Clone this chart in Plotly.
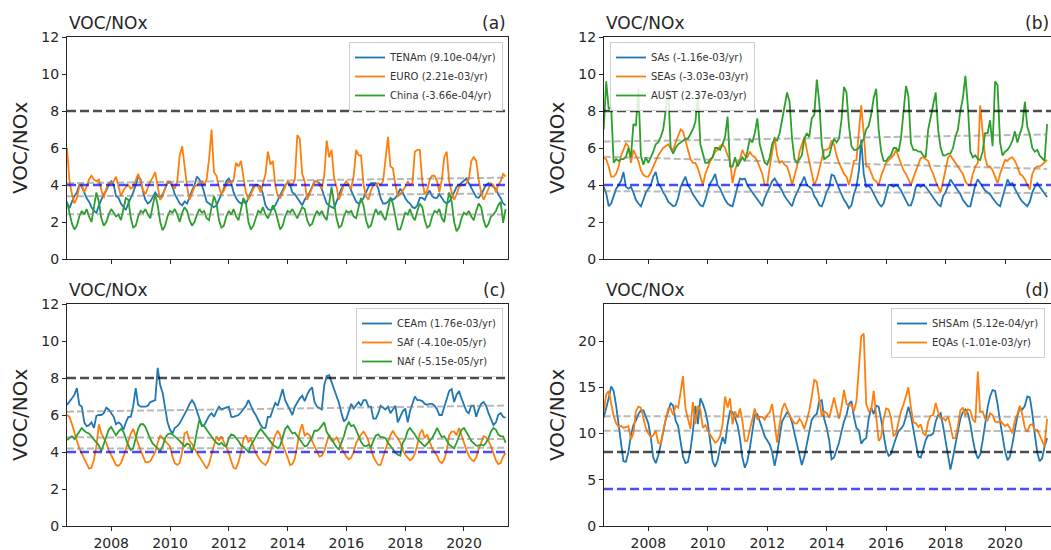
import numpy as np
import pandas as pd
import plotly.graph_objects as go

W, H = 1051, 550
FONT = "DejaVu Sans"
INK = "#262626"
C_BLUE, C_ORANGE, C_GREEN = "#1f77b4", "#ff7f0e", "#2ca02c"

# monthly time axis: Jul 2006 .. Jun 2021
dates = pd.date_range("2006-07-01", periods=180, freq="MS")
tnum = dates.year + (dates.month - 1) / 12.0

# ---------------- panel (a) ----------------
TENAm = [3.0, 2.75, 3.1, 3.4, 3.6, 4.0,
         3.9, 3.55, 3.3, 3.1, 2.8, 2.6, 2.5, 2.9, 3.2, 3.5, 3.7, 4.0,
         4.2, 4.0, 3.4, 3.3, 3.0, 2.8, 2.65, 3.0, 3.3, 3.6, 4.0, 4.45,
         4.3, 3.6, 3.2, 3.0, 3.1, 3.4, 3.6, 3.4, 3.3, 3.5, 3.8, 4.1,
         4.15, 3.9, 3.5, 3.2, 3.0, 2.9, 3.1, 3.0, 3.4, 3.7, 4.0, 4.45,
         4.3, 4.0, 3.6, 3.1, 3.0, 2.9, 2.8, 2.9, 3.2, 3.5, 3.8, 4.2,
         4.35, 4.1, 3.6, 3.3, 3.1, 3.0, 3.1, 3.0, 3.3, 3.6, 3.9, 4.0,
         4.0, 3.9, 3.5, 2.9, 2.7, 2.65, 2.7, 2.9, 3.2, 3.5, 3.8, 4.0,
         4.1, 4.0, 3.6, 3.5, 3.3, 3.1, 2.9, 3.2, 3.4, 3.6, 3.9, 4.2,
         4.2, 4.1, 3.8, 3.4, 3.0, 2.9, 2.8, 2.75, 3.1, 3.5, 3.8, 4.0,
         4.0, 4.0, 3.7, 3.4, 3.1, 3.0, 3.1, 3.3, 3.6, 3.9, 4.1, 4.1,
         4.1, 3.8, 3.3, 3.0, 3.0, 3.1, 3.3, 3.2, 3.3, 3.5, 3.8, 3.6,
         3.3, 3.1, 3.0, 2.8, 2.75, 2.9, 3.3, 3.3, 3.2, 3.5, 3.7, 3.4,
         3.3, 3.3, 3.5, 3.3, 3.1, 3.0, 3.1, 3.3, 3.6, 3.9, 4.0, 4.1,
         4.2, 4.35, 4.1, 3.8, 3.6, 3.35, 3.3, 3.5, 3.8, 4.0, 4.1, 4.0,
         3.9, 3.8, 3.5, 3.3, 3.0, 2.9]
EURO = [6.0, 4.2, 3.5, 3.0, 3.3, 3.9,
        4.0, 3.6, 3.9, 4.3, 4.5, 4.3, 4.2, 4.3, 3.7, 3.3, 3.8, 4.1,
        4.1, 4.2, 4.45, 3.9, 3.4, 3.7, 3.9, 4.0, 3.8, 3.9, 4.3, 4.6,
        4.2, 3.7, 3.5, 3.9, 4.2, 4.4, 4.7, 3.9, 3.2, 3.4, 3.8, 4.2,
        4.2, 4.0, 3.8, 4.2, 5.6, 6.1, 5.0, 3.9, 3.2, 3.5, 3.9, 4.0,
        4.1, 4.2, 4.0, 4.3, 5.4, 7.0, 4.7, 4.5, 3.9, 3.5, 3.7, 4.0,
        4.2, 4.1, 4.3, 5.2, 5.0, 5.3, 4.4, 3.6, 3.2, 3.5, 3.8, 4.0,
        3.9, 3.6, 4.1, 4.6, 5.8, 5.1, 5.3, 4.0, 3.4, 3.3, 3.6, 3.9,
        4.2, 4.1, 4.0, 4.3, 6.7, 6.5, 4.6, 4.2, 3.2, 3.5, 3.9, 4.2,
        4.2, 4.0, 3.8, 4.5, 6.4, 5.5, 5.9, 4.4, 3.9, 3.2, 3.6, 4.0,
        4.2, 4.0, 3.8, 4.5, 5.9, 5.6, 5.6, 4.0, 3.4, 3.2, 3.7, 4.0,
        4.0, 4.1, 4.0, 4.2, 5.3, 6.6, 5.0, 4.9, 4.0, 3.4, 3.5, 3.7,
        3.9, 4.2, 4.0, 4.1, 5.8, 5.9, 5.9, 4.2, 3.5, 3.7, 4.3, 4.5,
        4.5, 4.2, 3.6, 4.3, 5.5, 5.8, 4.2, 3.6, 3.2, 3.5, 3.9, 4.0,
        4.0, 4.1, 4.3, 5.3, 5.5, 5.3, 4.3, 3.6, 3.2, 3.5, 3.8, 4.1,
        4.0, 3.6, 4.0, 4.2, 4.6, 4.45]
China = [3.1, 2.4, 1.9, 1.6, 1.8, 2.3,
         2.6, 2.4, 2.7, 2.3, 2.0, 2.8, 3.6, 3.1, 2.2, 1.8, 2.0, 2.4,
         2.7, 2.5, 2.3, 2.4, 2.1, 2.7, 3.3, 3.2, 2.2, 1.7, 1.8, 2.3,
         2.6, 2.5, 2.7, 2.4, 2.2, 2.9, 3.5, 2.9, 2.0, 1.55, 1.8, 2.3,
         2.6, 2.5, 2.7, 2.4, 2.0, 2.5, 2.8, 2.6, 2.1, 1.8, 2.0, 2.4,
         2.7, 2.5, 2.6, 2.2, 2.1, 2.8, 3.4, 3.0, 2.1, 1.7, 1.8, 2.3,
         2.6, 2.4, 2.7, 2.3, 2.1, 2.7, 3.3, 3.0, 2.0, 1.6, 1.8, 2.2,
         2.6, 2.5, 2.8, 2.4, 2.2, 2.5, 2.9, 2.6, 2.0, 1.6, 1.8, 2.3,
         2.6, 2.5, 2.7, 2.4, 2.2, 2.5, 2.8, 2.7, 2.1, 1.8, 1.9, 2.3,
         2.6, 2.4, 2.6, 2.3, 2.1, 3.0, 3.9, 3.0, 2.2, 1.7, 1.8, 2.3,
         2.6, 2.5, 2.6, 2.3, 2.2, 2.8, 3.3, 2.9, 2.1, 1.7, 1.8, 2.3,
         2.7, 2.4, 2.6, 2.3, 2.1, 2.7, 3.3, 3.0, 2.2, 1.6, 1.6, 2.1,
         2.5, 2.4, 2.7, 2.3, 2.1, 2.6, 3.0, 2.8, 2.1, 1.7, 1.8, 2.3,
         2.6, 2.5, 2.7, 2.2, 2.0, 2.9, 3.6, 3.1, 2.0, 1.5, 1.7, 2.2,
         2.5, 2.4, 2.6, 2.3, 2.1, 2.6, 3.0, 2.8, 2.1, 1.7, 1.9, 2.3,
         2.4, 2.6, 2.9, 3.1, 1.95, 2.7]

# ---------------- panel (b) ----------------
SAs = [3.9, 3.55, 2.85, 3.0, 3.4, 3.8,
       4.0, 4.25, 4.7, 3.9, 3.8, 3.9, 3.6, 3.2, 3.0, 2.85, 3.2, 3.6,
       3.8, 4.0, 4.45, 4.7, 4.1, 3.9, 3.6, 3.4, 3.1, 3.0, 2.85, 2.9,
       3.3, 3.9, 4.2, 4.45, 4.0, 3.8, 3.5, 3.3, 3.1, 2.9, 2.85, 3.2,
       3.7, 4.1, 4.3, 4.6, 4.0, 3.8, 3.5, 3.2, 3.0, 2.9, 2.85, 3.4,
       3.9, 4.35, 4.3, 4.35, 4.0, 3.8, 3.6, 3.4, 3.2, 3.0, 2.85, 3.3,
       3.6, 3.9, 4.2, 4.35, 4.1, 3.9, 3.7, 3.4, 3.2, 3.0, 2.85, 3.3,
       3.6, 3.9, 4.2, 4.45, 4.0, 3.9, 3.8, 3.4, 3.2, 2.9, 2.85, 3.2,
       3.65, 3.9, 4.55, 4.5, 4.1, 3.8, 3.5, 3.2, 3.0, 2.75, 2.9, 3.5,
       3.9, 4.8, 6.45, 4.6, 3.9, 3.95, 3.8, 3.5, 3.2, 3.0, 2.85, 3.0,
       3.5, 4.0, 4.0, 3.9, 4.0, 3.9, 3.7, 3.4, 3.1, 2.9, 2.9, 3.3,
       3.9, 4.0, 3.9, 4.0, 3.9, 3.7, 3.5, 3.3, 3.1, 2.95, 2.85, 3.4,
       3.6, 4.0, 4.3, 4.1, 3.9, 3.7, 3.5, 3.2, 3.0, 2.85, 2.85, 3.4,
       4.0, 4.3, 4.1, 3.9, 3.7, 3.6, 3.5, 3.3, 3.1, 2.95, 2.85, 3.3,
       3.9, 4.3, 4.05, 4.1, 3.8, 3.5, 3.3, 3.1, 2.95, 2.85, 3.1, 3.6,
       3.9, 4.1, 3.9, 3.7, 3.5, 3.35]
SEAs = [5.45, 5.4, 5.0, 4.45, 4.45, 4.6,
        5.0, 5.6, 5.9, 6.25, 6.1, 5.2, 5.9, 5.6, 5.3, 4.8, 4.55, 4.45,
        4.45, 4.7, 5.0, 5.3, 5.6, 5.8, 6.0, 6.1, 6.2, 6.0, 5.9, 6.3,
        6.7, 7.0, 6.9, 6.4, 5.8, 5.4, 5.2, 5.2, 4.9, 4.5, 4.0, 4.6,
        5.0, 5.3, 5.5, 5.8, 5.9, 6.1, 6.2, 6.0, 5.6, 5.3, 4.1, 4.8,
        5.2, 5.4, 5.9, 5.6, 5.5, 5.8, 5.6, 5.5, 5.3, 5.0, 4.6, 4.0,
        4.0, 5.0, 5.8, 6.6, 5.6, 5.2, 5.3, 5.1, 5.0, 4.6, 4.0, 4.5,
        5.0, 5.8, 6.25, 6.6, 5.9, 5.2, 4.5, 4.0, 4.3, 4.9, 5.4, 5.9,
        5.9, 6.0, 6.4, 6.2, 5.6, 5.2, 4.9, 4.6, 4.45, 4.0, 4.6, 5.3,
        5.35, 6.7, 8.3, 6.8, 5.0, 5.0, 4.6, 4.3, 4.2, 4.0, 4.5, 4.8,
        5.2, 5.35, 5.5, 5.6, 5.9, 5.5, 5.2, 4.8, 4.6, 4.3, 4.0, 4.4,
        4.8, 5.2, 5.45, 5.5, 5.4, 5.3, 4.9, 4.6, 4.2, 3.9, 3.6, 4.2,
        4.8, 5.5, 5.6, 5.4, 5.2, 5.0, 4.8, 4.6, 4.2, 4.0, 4.0, 4.6,
        5.0, 5.2, 8.3, 7.0, 5.5, 5.0, 5.0, 4.8, 4.45, 4.1, 4.6, 5.0,
        5.35, 5.3, 5.45, 5.5, 5.3, 5.0, 4.6, 4.5, 4.3, 4.0, 3.75, 4.6,
        4.9, 5.0, 5.0, 5.1, 5.2, 5.35]
AUST = [7.0, 9.6, 8.1, 8.2, 5.2, 5.4,
        5.3, 5.4, 5.4, 5.5, 6.0, 5.5, 7.3, 7.2, 9.2, 5.6, 5.1, 5.5,
        5.2, 5.5, 5.8, 6.2, 6.3, 6.6, 7.0, 8.0, 9.2, 6.0, 5.7, 6.0,
        6.2, 6.3, 6.4, 6.5, 6.5, 6.8, 7.0, 7.4, 8.9, 6.2, 5.6, 5.2,
        5.2, 5.4, 5.5, 6.0, 6.0, 5.9, 6.2, 6.6, 7.7, 5.0, 5.0, 5.5,
        5.0, 5.3, 5.5, 5.3, 5.8, 6.5, 6.3, 6.8, 7.6, 6.2, 5.6, 5.2,
        5.1, 5.5, 6.2, 6.5, 6.4, 6.8, 7.5, 8.2, 9.0, 8.5, 6.5, 5.4,
        5.2, 5.4, 5.6, 6.5, 6.8, 6.6, 7.6, 7.8, 9.7, 8.5, 6.2, 5.4,
        5.5, 5.6, 6.1, 6.5, 6.3, 6.5, 7.5, 9.3, 9.0, 7.2, 6.1, 5.9,
        5.9, 6.0, 6.25, 6.5, 7.0, 7.2, 7.8, 8.7, 9.2, 7.0, 5.8, 5.3,
        5.3, 5.5, 5.6, 6.0, 6.0, 5.8, 6.5, 7.8, 9.35, 8.8, 6.25, 5.9,
        5.9, 5.8, 5.8, 5.6, 5.5, 7.0, 7.6, 8.2, 9.0, 7.0, 6.0, 5.6,
        5.6, 5.7, 5.7, 6.0, 6.6, 7.0, 8.0, 8.7, 9.9, 8.3, 5.8, 5.5,
        5.6, 5.4, 5.35, 5.8, 6.8, 6.8, 7.5, 6.1, 9.6, 9.4, 6.3, 5.6,
        5.8, 5.9, 6.1, 6.4, 6.9, 6.3, 6.7, 7.2, 8.5, 7.15, 6.7, 6.0,
        5.8, 5.9, 5.6, 5.45, 5.3, 7.3]

# ---------------- panel (c) ----------------
CEAm = [6.55, 6.7, 6.9, 7.1, 7.45, 6.55,
        6.45, 5.6, 5.4, 5.45, 5.6, 5.3, 5.95, 6.0, 6.0, 6.1, 6.4, 6.3,
        6.1, 5.9, 5.5, 5.6, 5.5, 5.2, 5.6, 5.9, 5.9, 6.5, 7.45, 6.55,
        6.45, 6.45, 6.45, 6.5, 6.7, 6.75, 6.8, 8.55, 7.6, 7.2, 6.45, 5.6,
        5.2, 5.0, 5.3, 5.4, 5.55, 5.8, 6.0, 6.3, 6.6, 6.8, 6.6, 6.2,
        5.8, 5.4, 5.45, 5.7, 5.95, 6.1, 5.9, 6.2, 6.45, 6.3, 6.35, 6.4,
        6.45, 5.9, 5.9, 5.95, 6.0, 6.15, 6.3, 6.5, 6.8, 6.5, 6.2, 6.0,
        5.7, 5.45, 5.3, 5.3, 5.9, 5.9, 6.3, 6.65, 6.5, 7.0, 7.4, 6.8,
        6.5, 6.2, 6.0, 6.45, 6.7, 6.9, 7.05, 6.75, 7.1, 7.35, 7.5, 6.7,
        6.45, 6.35, 6.3, 7.6, 8.1, 8.15, 7.8, 7.35, 7.0, 6.65, 6.1, 5.65,
        5.8, 6.2, 6.6, 6.35, 6.5, 6.7, 6.5, 6.8, 6.8, 6.45, 6.45, 5.8,
        5.8, 6.1, 6.5, 6.4, 6.3, 6.45, 6.1, 6.3, 6.5, 5.6, 5.9, 6.2,
        6.35, 5.6, 6.2, 6.6, 7.0, 6.8, 6.8, 6.75, 6.6, 6.55, 6.6, 6.6,
        6.5, 6.3, 6.0, 6.0, 6.4, 6.9, 7.3, 7.4, 6.7, 7.1, 7.3, 6.9,
        6.5, 6.2, 6.1, 6.5, 6.5, 5.9, 6.3, 6.6, 6.7, 6.5, 6.1, 5.8,
        5.45, 5.6, 6.0, 6.1, 5.9, 5.85]
SAf = [6.0, 5.9, 5.5, 5.0, 4.6, 4.2,
       3.9, 3.6, 3.35, 3.1, 3.15, 3.6, 4.3, 5.5, 5.0, 4.75, 4.5, 4.1,
       3.85, 3.55, 3.3, 3.25, 3.4, 3.75, 4.15, 4.5, 5.0, 5.25, 4.8, 4.45,
       4.1, 3.75, 3.45, 3.45, 3.5, 3.75, 4.0, 4.5, 4.9, 4.75, 4.6, 4.5,
       4.3, 3.75, 3.4, 3.3, 3.4, 4.0, 5.0, 5.1, 4.6, 4.45, 4.15, 3.95,
       3.75, 3.55, 3.3, 3.1, 3.35, 3.9, 4.3, 4.85, 4.6, 4.85, 4.55, 4.25,
       3.95, 3.5, 3.15, 3.1, 3.45, 4.0, 4.7, 4.9, 4.55, 4.7, 4.3, 3.95,
       3.7, 3.5, 3.4, 3.3, 3.5, 3.95, 4.5, 4.9, 5.15, 4.9, 4.4, 4.1,
       3.7, 3.3, 3.35, 3.65, 4.3, 5.1, 5.5, 4.9, 5.0, 4.9, 4.6, 4.3,
       4.0, 3.75, 3.8, 4.05, 4.5, 4.95, 4.6, 4.65, 4.8, 4.55, 4.2, 3.95,
       3.75, 3.6, 3.7, 4.0, 4.5, 4.7, 4.95, 5.1, 4.9, 4.6, 4.1, 3.75,
       3.5, 3.3, 3.3, 3.75, 4.2, 4.55, 4.9, 5.15, 4.9, 4.75, 4.5, 4.1,
       3.85, 3.7, 3.55, 3.65, 3.9, 4.4, 5.0, 5.2, 4.75, 4.95, 4.55, 4.2,
       4.0, 3.8, 3.5, 3.4, 3.6, 4.1, 4.9, 5.1, 5.1, 4.9, 5.3, 4.9,
       4.4, 4.1, 3.8, 3.6, 3.5, 3.7, 4.15, 4.5, 4.85, 4.8, 4.6, 4.3,
       3.95, 3.55, 3.35, 3.4, 3.75, 3.95]
NAf = [4.65, 4.75, 4.85, 4.7, 4.9, 5.1,
       5.3, 5.15, 5.05, 5.0, 4.85, 4.7, 4.55, 4.35, 4.05, 4.45, 4.9, 5.2,
       5.35, 5.1, 4.9, 5.1, 5.25, 5.1, 4.7, 4.35, 4.1, 4.2, 4.75, 5.25,
       5.5, 5.5, 5.35, 5.0, 4.7, 4.45, 4.3, 4.15, 4.05, 4.3, 4.75, 4.95,
       5.0, 4.95, 4.85, 4.75, 4.6, 4.45, 4.3, 4.45, 4.4, 4.0, 4.4, 5.1,
       5.75, 5.45, 5.4, 5.2, 5.0, 4.85, 4.65, 4.5, 4.4, 4.5, 4.35, 4.3,
       4.75, 4.95, 4.9, 4.75, 4.6, 4.35, 4.3, 4.15, 4.0, 4.35, 4.6, 4.85,
       5.05, 5.25, 5.1, 4.9, 4.75, 4.6, 4.4, 4.3, 4.2, 4.35, 4.8, 5.25,
       5.4, 5.2, 5.0, 5.05, 4.85, 4.65, 4.45, 4.3, 4.35, 4.55, 4.8, 5.15,
       5.15, 5.25, 5.45, 5.6, 5.1, 4.85, 4.7, 4.5, 4.25, 4.15, 4.5, 4.85,
       5.35, 5.6, 5.4, 5.45, 5.2, 4.85, 4.55, 4.35, 4.3, 4.4, 4.25, 4.6,
       4.9, 4.95, 4.8, 4.8, 4.75, 4.5, 4.35, 4.15, 3.95, 3.85, 3.8, 4.5,
       4.7, 5.15, 5.3, 5.15, 4.95, 4.7, 4.55, 4.45, 4.3, 4.45, 4.6, 4.75,
       5.0, 5.3, 5.05, 4.8, 4.85, 4.6, 4.4, 4.3, 4.2, 4.5, 4.9, 5.2,
       5.3, 5.1, 4.85, 4.6, 4.45, 4.35, 4.35, 4.4, 4.35, 4.5, 4.75, 5.1,
       5.3, 5.2, 4.95, 4.85, 4.85, 4.5]

# ---------------- panel (d) ----------------
SHSAm = [11.7, 12.7, 13.8, 15.1, 14.6, 13.0,
         11.0, 8.9, 7.0, 6.95, 8.0, 9.8, 10.9, 11.4, 12.1, 12.5, 12.5, 11.8,
         11.1, 9.5, 7.4, 6.8, 7.6, 8.8, 10.2, 11.5, 12.4, 13.3, 13.0, 11.4,
         10.8, 9.3, 7.5, 6.8, 6.9, 8.2, 10.2, 13.0, 11.0, 13.8, 13.2, 12.4,
         11.1, 9.0, 7.0, 6.4, 7.1, 8.5, 9.6, 8.9, 11.0, 12.4, 12.3, 11.7,
         10.9, 9.4, 7.4, 6.3, 7.0, 8.4, 10.2, 12.0, 12.1, 11.4, 10.5, 9.7,
         9.2, 8.8, 8.0, 6.5, 7.8, 9.5, 11.3, 11.8, 12.3, 12.0, 11.2, 10.0,
         8.8, 7.8, 6.6, 7.5, 8.8, 10.3, 11.5, 11.9, 12.1, 13.5, 13.6, 11.6,
         10.6, 9.2, 7.2, 7.4, 8.1, 9.0, 10.2, 11.3, 12.0, 13.2, 13.5, 11.8,
         10.6, 10.3, 8.9, 9.3, 9.5, 11.6, 12.8, 12.1, 13.0, 12.9, 11.5, 9.8,
         8.3, 7.6, 7.8, 8.7, 9.6, 10.3, 10.5, 10.9, 11.8, 12.9, 11.9, 10.6,
         8.9, 7.5, 7.4, 8.3, 9.3, 9.8, 9.8, 10.0, 11.3, 12.0, 12.2, 10.8,
         9.1, 7.4, 6.1, 7.4, 8.7, 10.2, 11.6, 12.3, 12.6, 12.2, 11.0, 9.4,
         8.0, 7.3, 7.7, 9.2, 11.0, 12.8, 14.0, 14.7, 14.6, 13.2, 11.3, 9.6,
         8.1, 7.1, 7.5, 8.9, 10.6, 11.9, 12.8, 12.6, 13.0, 14.0, 13.9, 12.2,
         9.9, 7.9, 7.0, 7.3, 8.6, 9.5]
EQAs = [12.3, 14.2, 14.6, 13.4, 11.9, 11.1,
        10.7, 10.8, 10.6, 10.7, 10.8, 9.4, 10.0, 12.4, 12.9, 12.8, 11.6, 10.6,
        10.0, 9.6, 9.8, 10.3, 9.0, 8.9, 10.3, 11.7, 12.7, 12.7, 12.0, 13.0,
        12.8, 14.5, 16.2, 12.7, 11.5, 10.5, 13.4, 11.0, 13.0, 12.6, 10.6, 10.9,
        10.3, 9.8, 9.4, 9.0, 9.2, 9.7, 11.0, 14.0, 12.8, 13.8, 11.0, 12.4,
        11.7, 12.7, 11.4, 9.2, 9.2, 10.4, 11.8, 12.7, 11.5, 11.8, 11.8, 11.5,
        12.0, 12.3, 13.2, 11.0, 9.0, 11.0, 12.6, 13.3, 12.6, 12.0, 11.5, 11.1,
        11.1, 11.6, 11.2, 10.5, 11.4, 12.5, 14.0, 15.8, 15.6, 13.4, 11.8, 12.4,
        12.2, 11.7, 12.8, 13.9, 12.7, 11.6, 12.8, 14.7, 13.2, 13.0, 13.1, 12.4,
        13.5, 17.0, 20.5, 20.8, 13.2, 12.4, 12.5, 14.6, 11.4, 9.2, 9.6, 11.6,
        12.7, 12.6, 11.7, 9.7, 10.0, 11.3, 12.4, 13.1, 14.0, 15.0, 12.8, 11.2,
        11.1, 10.7, 11.0, 10.0, 9.8, 11.3, 11.9, 12.0, 13.3, 12.3, 11.6, 11.7,
        11.4, 11.8, 10.8, 9.5, 9.5, 10.8, 12.5, 12.8, 11.9, 12.6, 12.5, 11.5,
        11.2, 16.7, 12.3, 12.4, 11.6, 11.4, 12.2, 12.0, 11.3, 11.2, 11.4, 11.1,
        10.8, 11.0, 10.6, 10.0, 11.4, 12.1, 13.0, 12.0, 10.6, 10.2, 10.9, 11.0,
        10.4, 10.4, 9.9, 9.2, 8.6, 11.6]

PANELS = [
    # name, series list, legend names, y max, y dtick, pixel box (l, r, top, bottom)
    ("a", [TENAm, EURO, China],
     ["TENAm (9.10e-04/yr)", "EURO (2.21e-03/yr)", "China (-3.66e-04/yr)"],
     12, 2, (67, 508, 37, 259)),
    ("b", [SAs, SEAs, AUST],
     ["SAs (-1.16e-03/yr)", "SEAs (-3.03e-03/yr)", "AUST (2.37e-03/yr)"],
     12, 2, (604, 1051, 37, 259)),
    ("c", [CEAm, SAf, NAf],
     ["CEAm (1.76e-03/yr)", "SAf (-4.10e-05/yr)", "NAf (-5.15e-05/yr)"],
     12, 2, (67, 508, 304, 526)),
    ("d", [SHSAm, EQAs],
     ["SHSAm (5.12e-04/yr)", "EQAs (-1.01e-03/yr)"],
     24, 5, (604, 1051, 304, 526)),
]
THRESHOLDS = [(8, "rgba(0,0,0,0.7)"), (4, "rgba(0,0,255,0.7)")]
COLORS = [C_BLUE, C_ORANGE, C_GREEN]
LEG_POS = {"a": (503, 42, "right"), "b": (610, 42, "left"),
           "c": (503, 308, "right"), "d": (1045, 308, "right")}

fig = go.Figure()
layout = dict(width=W, height=H, margin=dict(l=0, r=0, t=0, b=0),
              paper_bgcolor="white", plot_bgcolor="white",
              font=dict(family=FONT, color=INK), showlegend=True)
annotations = []

for k, (name, series, labels, ymax, dtick, (l, r, top, bot)) in enumerate(PANELS):
    idx = "" if k == 0 else str(k + 1)
    xa, ya = "x" + idx, "y" + idx
    leg = "legend" + idx
    right = name in ("b", "d")
    bottom = name in ("c", "d")
    x_end = "2021-07-19" if right else "2021-07-01"
    x_start = "2006-07-05" if right else "2006-07-01"
    layout["xaxis" + idx] = dict(
        domain=[l / W, r / W], anchor=ya, type="date",
        range=[x_start, x_end], tick0="2008-01-01", dtick="M24", tickformat="%Y",
        showline=True, linecolor=INK, linewidth=1.2, mirror=True,
        ticks="outside", ticklen=4, tickwidth=1.2, tickcolor=INK,
        showgrid=False, zeroline=False, showticklabels=bottom,
        tickfont=dict(size=14, family=FONT, color=INK), automargin=False)
    layout["yaxis" + idx] = dict(
        domain=[1 - bot / H, 1 - top / H], anchor=xa,
        range=[0, ymax], tick0=0, dtick=dtick,
        showline=True, linecolor=INK, linewidth=1.2, mirror=(not right),
        ticks="outside", ticklen=4, tickwidth=1.2, tickcolor=INK,
        showgrid=False, zeroline=False,
        tickfont=dict(size=14, family=FONT, color=INK), automargin=False)
    lx, ly, anc = LEG_POS[name]
    layout[leg] = dict(x=lx / W, y=1 - ly / H, xanchor=anc, yanchor="top",
                       bgcolor="rgba(255,255,255,0.85)", bordercolor="#cfcfcf",
                       borderwidth=1, font=dict(size=10, family=FONT, color="#333333"),
                       itemwidth=30, tracegroupgap=0)

    for s, lab, col in zip(series, labels, COLORS):
        fig.add_trace(go.Scatter(x=dates, y=s, mode="lines", name=lab,
                                 line=dict(color=col, width=1.8),
                                 xaxis=xa, yaxis=ya, legend=leg))
    for s in series:
        p = np.polyfit(tnum, np.asarray(s, dtype=float), 1)
        fig.add_trace(go.Scatter(x=[dates[0], dates[-1]],
                                 y=[np.polyval(p, tnum[0]), np.polyval(p, tnum[-1])],
                                 mode="lines", showlegend=False, hoverinfo="skip",
                                 line=dict(color="rgba(128,128,128,0.55)", width=2,
                                           dash="7px,3px"),
                                 xaxis=xa, yaxis=ya))
    for yv, col in THRESHOLDS:
        fig.add_shape(type="line", xref=xa + " domain", yref=ya, x0=0, x1=1,
                      y0=yv, y1=yv, line=dict(color=col, width=2.6, dash="9px,4px"))

    ty = 23 if not bottom else 290
    annotations.append(dict(text="VOC/NOx", x=l / W, y=1 - ty / H, xref="paper", yref="paper",
                            xanchor="left", yanchor="middle", showarrow=False,
                            font=dict(size=17, family=FONT, color=INK)))
    annotations.append(dict(text="(%s)" % name, x=min(r, W) / W, y=1 - ty / H,
                            xref="paper", yref="paper", xanchor="right", yanchor="middle",
                            showarrow=False, font=dict(size=17, family=FONT, color=INK)))
    annotations.append(dict(text="VOC/NOx", x=(557 if right else 20) / W,
                            y=1 - (top + bot) / 2 / H, xref="paper", yref="paper",
                            xanchor="center", yanchor="middle", textangle=-90,
                            showarrow=False, font=dict(size=20, family=FONT, color=INK)))

layout["annotations"] = annotations
fig.update_layout(**layout)
fig.write_html("out.html", config={"displayModeBar": False},
               post_script="document.body.style.margin='0';"
                           "document.body.style.overflow='hidden';")
